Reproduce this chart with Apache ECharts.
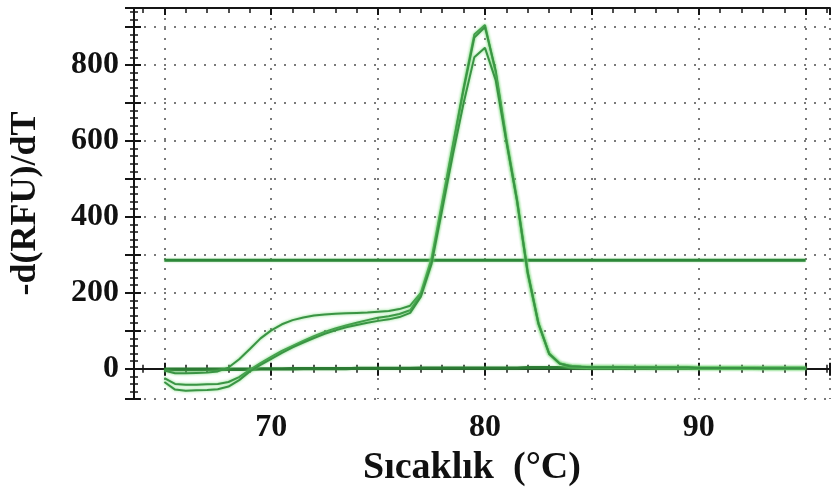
<!DOCTYPE html>
<html><head><meta charset="utf-8">
<script src="https://cdn.jsdelivr.net/npm/echarts@6/dist/echarts.min.js"></script>
<style>html,body{margin:0;padding:0;background:#fff}#c{width:833px;height:492px}</style>
</head><body><div id="c"></div>
<script>
// Temperatures (°C), 0.5 step
const temps = [65,65.5,66,66.5,67,67.5,68,68.5,69,69.5,70,70.5,71,71.5,72,72.5,73,73.5,74,74.5,75,75.5,76,76.5,77,77.5,78,78.5,79,79.5,80,
  80.5,81,81.5,82,82.5,83,83.5,84,84.5,85,85.5,86,86.5,87,87.5,88,88.5,89,89.5,90,90.5,91,91.5,92,92.5,93,93.5,94,94.5,95];
// Melt curves -d(RFU)/dT
const curveA = [-5,-12,-12,-11,-10,-7,3,25,52,80,101,117,128,135,140,143,145,146,147,148,150,152,157,166,200,290,440,590,740,880,905,
  780,600,440,250,118,40,14,7,5,4,4,4,4,3,3,3,3,3,3,2,2,2,2,2,2,1,1,1,1,1];
const curveB = [-25,-40,-42,-42,-41,-40,-35,-22,-3,15,31,47,60,73,86,97,106,114,121,128,134,138,144,154,196,283,432,585,735,872,900,
  785,605,445,255,120,40,14,7,5,4,4,4,4,3,3,3,3,3,3,2,2,2,2,2,2,1,1,1,1,1];
const curveC = [-35,-55,-58,-57,-56,-54,-47,-30,-7,10,26,42,56,69,81,92,101,109,115,121,126,130,136,147,190,276,420,565,700,820,845,
  760,598,442,252,119,39,13,6,5,4,4,4,4,3,3,3,3,3,3,2,2,2,2,2,2,1,1,1,1,1];
// Negative-control baselines
const baseD = [-4,-3,-3,-3,-2,-2,-2,-2,-2,-1,-1,-1,-1,0,0,0,0,0,1,1,1,1,1,1,2,2,2,2,2,2,2,
  2,2,2,3,3,3,3,3,3,3,3,3,3,3,3,2,2,2,2,2,2,2,2,2,2,2,2,2,2,2];
const baseE = [0,0,0,0,0,0,0,0,0,0,0,0,1,1,1,1,1,1,1,1,1,1,1,1,1,1,1,1,1,1,1,
  1,1,1,1,1,1,1,1,1,1,1,1,1,1,1,1,1,1,1,1,1,0,0,0,0,0,0,0,0,0];
// Threshold line
const thrTemps = [65, 95];
const thrValues = [286, 286];
const xLabels = [70, 80, 90];
const yLabels = [0, 200, 400, 600, 800];

const pair = (xs, ys) => xs.map((x, i) => [x, ys[i]]);
const FONT = '"Liberation Serif","DejaVu Serif",serif';
const dotted = { color: '#7a7a7a', width: 2, type: [2, 8] };
const axisCol = '#151515';

const meltStyle = { color: '#3a9444', width: 2, shadowColor: 'rgba(110,215,110,0.9)', shadowBlur: 3 };
const line = (name, data, style, z) => ({
  name, type: 'line', data, showSymbol: false, symbol: 'none', smooth: false,
  lineStyle: style, z: z || 3, silent: true
});

const xBase = { type: 'value', min: 63.58, max: 96.14, splitNumber: 6, gridIndex: 0 };
const yBase = { type: 'value', min: -80, max: 950, splitNumber: 10, gridIndex: 0 };

const chart = echarts.init(document.getElementById('c'), null, { renderer: 'canvas' });
chart.setOption({
  animation: false,
  backgroundColor: '#fff',
  grid: { left: 128, top: 8, right: 0, bottom: 90, containLabel: false },
  xAxis: [
    Object.assign({}, xBase, {
      position: 'bottom',
      axisLine: { show: true, lineStyle: { color: axisCol, width: 2 } },
      axisTick: { show: true, length: 7, lineStyle: { color: axisCol, width: 2 } },
      minorTick: { show: true, splitNumber: 5, length: 4, lineStyle: { color: axisCol, width: 1.5 } },
      splitLine: { show: true, lineStyle: dotted },
      axisLabel: { show: true, margin: 13, color: '#111', fontFamily: FONT, fontWeight: 'bold', fontSize: 32,
        formatter: v => xLabels.indexOf(Math.round(v * 1000) / 1000) >= 0 ? String(v) : '' },
      name: 'Sıcaklık  (°C)', nameLocation: 'middle', nameGap: 45,
      nameTextStyle: { color: '#111', fontFamily: FONT, fontWeight: 'bold', fontSize: 38, padding: [0, 20, 0, 0] }
    }),
    Object.assign({}, xBase, {
      position: 'bottom',
      axisLine: { show: false },
      axisTick: { show: true, inside: true, length: 6, lineStyle: { color: axisCol, width: 2 } },
      minorTick: { show: true, splitNumber: 5, length: 4, lineStyle: { color: axisCol, width: 1.5 } },
      splitLine: { show: false }, axisLabel: { show: false }
    }),
    Object.assign({}, xBase, {
      position: 'top',
      axisLine: { show: true, lineStyle: { color: axisCol, width: 2 } },
      axisTick: { show: true, inside: true, length: 7, lineStyle: { color: axisCol, width: 2 } },
      minorTick: { show: true, splitNumber: 5, length: 5, lineStyle: { color: axisCol, width: 1.5 } },
      splitLine: { show: false }, axisLabel: { show: false }
    })
  ],
  yAxis: [
    Object.assign({}, yBase, {
      position: 'left',
      axisLine: { show: true, lineStyle: { color: axisCol, width: 2 } },
      axisTick: { show: true, length: 9, lineStyle: { color: axisCol, width: 2 } },
      minorTick: { show: true, splitNumber: 5, length: 4, lineStyle: { color: axisCol, width: 1.5 } },
      splitLine: { show: true, lineStyle: dotted },
      axisLabel: { show: true, margin: 15, color: '#111', fontFamily: FONT, fontWeight: 'bold', fontSize: 32,
        formatter: v => yLabels.indexOf(Math.round(v)) >= 0 && Math.abs(v - Math.round(v)) < 1e-6 ? String(Math.round(v)) : '' },
      name: '-d(RFU)/dT', nameLocation: 'middle', nameGap: 90,
      nameTextStyle: { color: '#111', fontFamily: FONT, fontWeight: 'bold', fontSize: 36 }
    }),
    Object.assign({}, yBase, {
      position: 'left',
      axisLine: { show: false },
      axisTick: { show: true, inside: true, length: 7, lineStyle: { color: axisCol, width: 2 } },
      minorTick: { show: true, splitNumber: 5, length: 4, lineStyle: { color: axisCol, width: 1.5 } },
      splitLine: { show: false }, axisLabel: { show: false }
    })
  ],
  series: [
    line('Eşik', pair(thrTemps, thrValues), { color: '#2d8739', width: 3, shadowColor: 'rgba(100,200,100,0.6)', shadowBlur: 2 }, 2),
    line('NK1', pair(temps, baseD), { color: '#2f7f36', width: 3, shadowColor: 'rgba(100,200,100,0.6)', shadowBlur: 2 }, 3),
    line('NK2', pair(temps, baseE), { color: '#2b7a33', width: 2.5 }, 3),
    line('Örnek 1', pair(temps, curveA), meltStyle, 4),
    line('Örnek 2', pair(temps, curveB), meltStyle, 4),
    line('Örnek 3', pair(temps, curveC), meltStyle, 4)
  ]
});
</script>
</body></html>
